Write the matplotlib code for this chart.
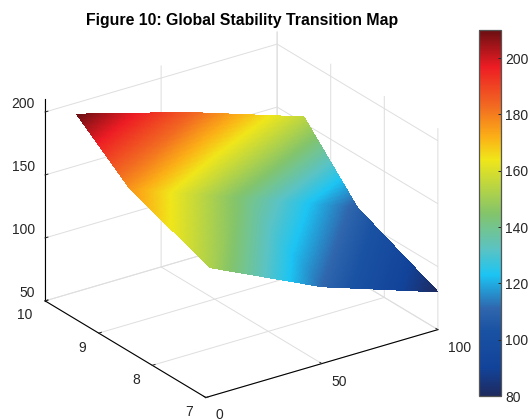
import numpy as np
import matplotlib
matplotlib.use("Agg")
import matplotlib.pyplot as plt
from matplotlib.colors import LinearSegmentedColormap
from matplotlib.tri import Triangulation, UniformTriRefiner, LinearTriInterpolator

plt.rcParams["font.family"] = ["Liberation Sans", "DejaVu Sans"]

# values
x_vals = [2, 50, 100]
y_vals = [9.5, 8.5, 7]
z_rows = [[210, 185.5, 155],
          [176, 143, 108.5],
          [152, 111, 80]]

x_ticks = [0, 50, 100]
y_ticks = [7, 8, 9, 10]
z_ticks = [50, 100, 150, 200]
cbar_ticks = [80, 100, 120, 140, 160, 180, 200]

title = "Figure 10: Global Stability Transition Map"

# colorbar stops
stop_vals = [80, 90, 103, 111, 123, 132, 145, 164, 172, 183, 197, 210]
stop_cols = ["#1e2a5e", "#12439a", "#1a52a3", "#2f66ad", "#1cc4f3", "#5ac3c4", "#84c46a",
             "#f0e61a", "#fbb016", "#f26a21", "#ed1c24", "#6a0f12"]

vmin, vmax = 80, 210
pos = [(v - vmin) / (vmax - vmin) for v in stop_vals]
cmap = LinearSegmentedColormap.from_list("stability", list(zip(pos, stop_cols)), N=512)

fig = plt.figure(figsize=(5.28, 4.19), dpi=100)
W, H = 528.0, 419.0

# box placed from measured corners: width 443 px at zoom 1
ax = fig.add_axes([14 / W, -23 / H, 443 / W, 443 / H], projection="3d", proj_type="ortho")
ax.view_init(elev=24.8, azim=-124.9)
ax.set_box_aspect((283, 281, 222))
ax.set_xlim(0, 100, view_margin=0)
ax.set_ylim(7, 10, view_margin=0)
ax.set_zlim(50, 210, view_margin=0)
ax.patch.set_alpha(0)

# same cell splitting as the reference; refine only for the interp shading
xx, yy = np.meshgrid(x_vals, y_vals)
zz = np.array(z_rows, dtype=float)
cells = [[0, 1, 3], [1, 4, 3], [1, 2, 4], [2, 5, 4],
         [3, 4, 6], [4, 7, 6], [4, 5, 7], [5, 8, 7]]
base = Triangulation(xx.ravel(), yy.ravel(), cells)
fine, fine_z = UniformTriRefiner(base).refine_field(
    zz.ravel(), triinterpolator=LinearTriInterpolator(base, zz.ravel()), subdiv=6)
surf = ax.plot_trisurf(fine, fine_z, cmap=cmap, vmin=vmin, vmax=vmax,
                       linewidth=0, edgecolor="none", antialiased=False, shade=False)

ax.set_xticks(x_ticks)
ax.set_yticks(y_ticks)
ax.set_zticks(z_ticks)
ax.tick_params(axis="x", labelsize=10, colors="#262626", pad=2)
ax.tick_params(axis="y", labelsize=10, colors="#262626", pad=1)
ax.tick_params(axis="z", labelsize=10, colors="#262626", pad=-3.6)

for axis in (ax.xaxis, ax.yaxis, ax.zaxis):
    axis.set_pane_color((1, 1, 1, 0))
    axis.pane.set_edgecolor((1, 1, 1, 0))
    axis._axinfo["grid"]["color"] = "#dedede"
    axis._axinfo["grid"]["linewidth"] = 0.7
    axis._axinfo["axisline"]["color"] = "#555555"
    axis._axinfo["axisline"]["linewidth"] = 0.7
    axis._axinfo["tick"]["color"] = "#555555"
    axis._axinfo["tick"]["linewidth"] = {True: 0.7, False: 0.7}
    axis._axinfo["tick"]["inward_factor"] = 0.0
    axis._axinfo["tick"]["outward_factor"] = 0.15

for lab in ax.get_xticklabels():
    lab.set_ha("left")
    lab.set_va("center")
for lab in ax.get_yticklabels():
    lab.set_ha("right")
    lab.set_va("center")
for lab in ax.get_zticklabels():
    lab.set_ha("right")
    lab.set_va("bottom")

fig.text(242 / W, 1 - 20 / H, title, ha="center", va="center",
         fontsize=11.4, fontweight="bold", color="black")

cax = fig.add_axes([479 / W, 23 / H, 22 / W, 366 / H])
cb = fig.colorbar(surf, cax=cax, ticks=cbar_ticks)
cb.ax.tick_params(direction="in", length=2.5, width=0.7, labelsize=10,
                  colors="#262626", pad=3)
cb.outline.set_edgecolor("#555555")
cb.outline.set_linewidth(0.9)

fig.savefig("out.png", dpi=100)
